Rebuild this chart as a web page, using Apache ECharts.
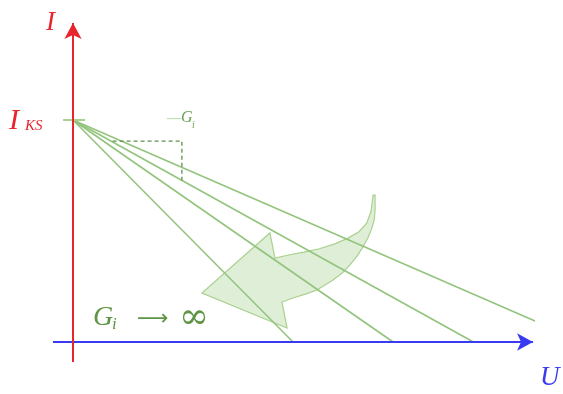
<!DOCTYPE html>
<html>
<head>
<meta charset="utf-8">
<script src="https://cdn.jsdelivr.net/npm/echarts@6/dist/echarts.min.js"></script>
<style>
  html, body { margin: 0; padding: 0; background: #fff; }
  #chart { width: 563px; height: 394px; }
</style>
</head>
<body>
<div id="chart"></div>
<script>
  // short-circuit current and the U intercepts of each source line (U0 = IKS / Gi)
  const iKS = 10;
  const lineA = [[0, iKS], [10, 0]];
  const lineB = [[0, iKS], [14.55, 0]];
  const lineC = [[0, iKS], [18.2, 0]];
  const lineD = [[0, iKS], [21, 0.95]];
  // slope triangle on line C
  const slopeTri = [[1.8, 9.05], [4.95, 9.05], [4.95, 7.28]];
  // axes
  const uAxis = [[-0.91, 0], [20.91, 0]];
  const iAxis = [[0, -0.9], [0, 14.37]];
  const iksTick = [[-0.45, iKS], [0.55, iKS]];
  // curved arrow outline (inner arc, head, outer arc)
  const bigArrow = [
    [13.64, 6.62], [13.55, 5.9], [13.35, 5.35], [13.0, 4.97], [12.5, 4.68], [11.9, 4.42],
    [11.2, 4.2], [10.5, 4.05], [9.85, 3.93], [9.18, 3.78],
    [8.95, 4.91], [5.86, 2.21], [9.73, 0.63], [9.50, 1.80],
    [10.0, 1.98], [10.6, 2.17], [11.09, 2.34], [11.82, 2.79], [12.25, 3.12], [12.59, 3.47],
    [12.92, 3.88], [13.18, 4.28], [13.42, 4.72], [13.59, 5.14], [13.7, 5.55],
    [13.73, 5.96], [13.73, 6.62]
  ];

  const green = '#93c47d';
  const chart = echarts.init(document.getElementById('chart'));

  const lineSeries = (data, extra) => Object.assign({
    type: 'line', data: data, symbol: 'none', silent: true, animation: false,
    lineStyle: { color: green, width: 1.6 }
  }, extra || {});

  const arrowLine = (seg, color) => ({
    type: 'line', data: [], silent: true, animation: false,
    markLine: {
      silent: true, animation: false,
      symbol: ['none', 'arrow'], symbolSize: [13, 16],
      label: { show: false },
      lineStyle: { color: color, width: 2, type: 'solid' },
      data: [[{ coord: seg[0] }, { coord: seg[1] }]]
    }
  });

  chart.setOption({
    animation: false,
    grid: { left: 0, right: 0, top: 0, bottom: 0 },
    xAxis: { type: 'value', min: -73 / 22, max: 490 / 22, show: false },
    yAxis: { type: 'value', min: -52 / 22.2, max: 342 / 22.2, show: false },
    series: [
      lineSeries(lineA),
      lineSeries(lineB),
      lineSeries(lineC),
      lineSeries(lineD),
      lineSeries(slopeTri, { lineStyle: { color: '#5f8f4a', width: 1.3, type: [4, 3] } }),
      lineSeries(iksTick, { lineStyle: { color: '#a9d18e', width: 2 } }),
      {
        type: 'custom', silent: true, animation: false, data: [0],
        renderItem: function (params, api) {
          return {
            type: 'polygon',
            shape: { points: bigArrow.map(p => api.coord(p)) },
            style: { fill: 'rgba(190,222,176,0.5)', stroke: '#a9d18e', lineWidth: 1.2 }
          };
        }
      },
      arrowLine(uAxis, '#3a3af0'),
      arrowLine(iAxis, '#e8252d')
    ],
    graphic: [
      { type: 'text', left: 46, top: 9, style: { text: 'I', font: 'italic 27px "Liberation Serif"', fill: '#e8252d' } },
      { type: 'text', left: 9, top: 106, style: { text: 'I', font: 'italic 30px "Liberation Serif"', fill: '#e8252d' } },
      { type: 'text', left: 25, top: 119, style: { text: 'KS', font: 'italic 15px "Liberation Serif"', fill: '#e8252d' } },
      { type: 'text', left: 166, top: 111, style: { text: '—', font: '16px "DejaVu Sans"', fill: '#c3dfb3' } },
      { type: 'text', left: 181, top: 110, style: { text: 'G', font: 'italic 16px "Liberation Serif"', fill: '#6a9f50' } },
      { type: 'text', left: 192, top: 120, style: { text: 'i', font: 'italic 10px "Liberation Serif"', fill: '#6a9f50' } },
      { type: 'text', left: 93, top: 304, style: { text: 'G', font: 'italic 28px "Liberation Serif"', fill: '#5e9545' } },
      { type: 'text', left: 112, top: 316, style: { text: 'i', font: 'italic 17px "Liberation Serif"', fill: '#5e9545' } },
      { type: 'text', left: 137, top: 308, style: { text: '⟶', font: '22px "DejaVu Sans"', fill: '#5e9545' } },
      { type: 'text', left: 179, top: 301, style: { text: '∞', font: '36px "DejaVu Serif"', fill: '#5e9545' } },
      { type: 'text', left: 540, top: 364, style: { text: 'U', font: 'italic 27px "Liberation Serif"', fill: '#3a3af0' } }
    ]
  });
</script>
</body>
</html>
